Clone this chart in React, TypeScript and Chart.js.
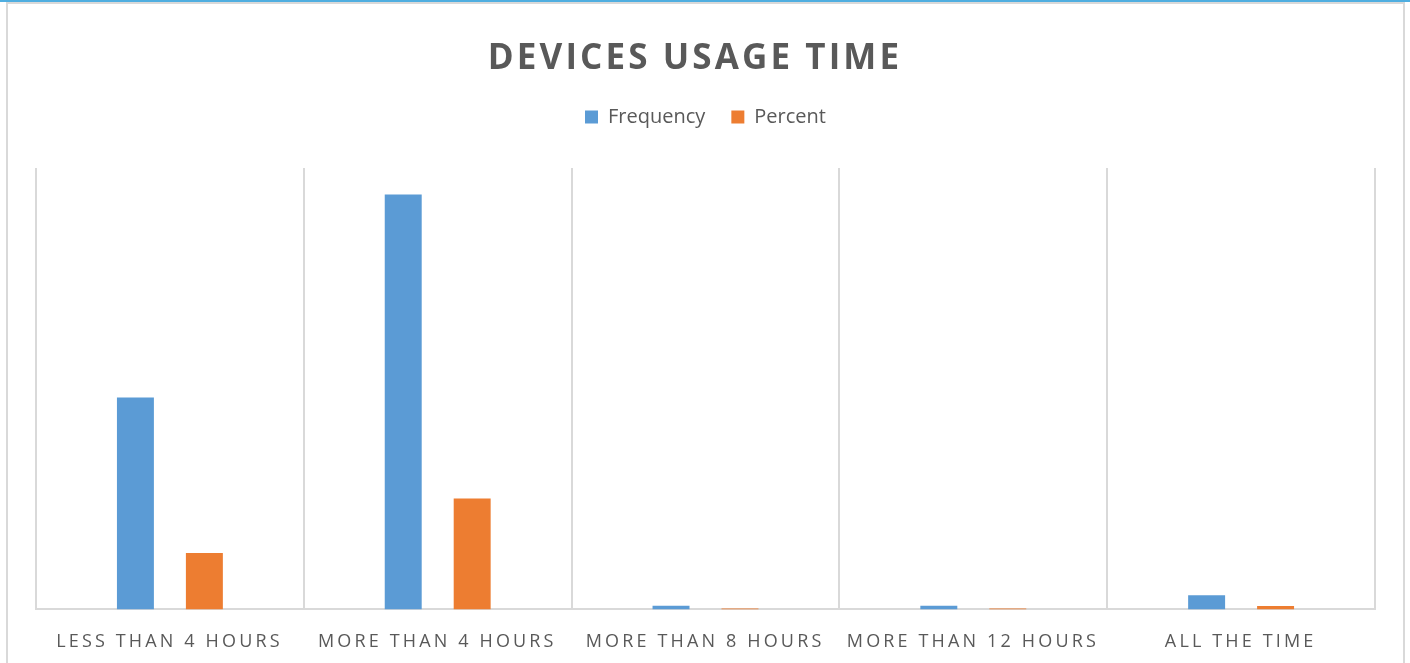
import React, { useEffect, useRef } from 'react';
import { Chart, registerables, CategoryScale } from 'chart.js';

Chart.register(...registerables);

// Usage buckets and the two series drawn per bucket
const categories = [
  'LESS THAN 4 HOURS',
  'MORE THAN 4 HOURS',
  'MORE THAN 8 HOURS',
  'MORE THAN 12 HOURS',
  'ALL THE TIME',
];
const frequency = [120, 235, 2, 2, 8];
const percent = [32.0, 62.8, 0.5, 0.5, 1.9];

const FONT = '"Open Sans", "Noto Sans", sans-serif';
const TEXT = '#595959';
const GRID = '#d9d9d9';
const TICK_SPACING = 3.15;
const TITLE_SPACING = 3.1;
const LEGEND_GAP = 31;

// Category axis that draws its labels with wide tracking
class SpacedCategoryScale extends CategoryScale {
  static id = 'spacedCategory';
  static defaults = CategoryScale.defaults;
  drawLabels(chartArea: any) {
    const ctx: any = this.ctx;
    ctx.save();
    ctx.letterSpacing = `${TICK_SPACING}px`;
    ctx.translate(TICK_SPACING / 2 - 2, 0);
    super.drawLabels(chartArea);
    ctx.restore();
  }
}
Chart.register(SpacedCategoryScale);

// Tracking for the title block
const titleTracking = {
  id: 'titleTracking',
  afterInit(chart: any) {
    const block = chart.titleBlock;
    if (block && !block.__tracked) {
      const draw = block.draw.bind(block);
      block.draw = (...args: any[]) => {
        const ctx = chart.ctx;
        ctx.save();
        ctx.letterSpacing = `${TITLE_SPACING}px`;
        ctx.translate(-10.5, 0);
        draw(...args);
        ctx.restore();
      };
      block.__tracked = true;
    }
  },
};

export default function App() {
  const ref = useRef<HTMLCanvasElement>(null);

  useEffect(() => {
    const chart = new Chart(ref.current!, {
      type: 'bar',
      data: {
        labels: categories,
        datasets: [
          {
            label: 'Frequency',
            data: frequency,
            backgroundColor: '#5B9BD5',
            barPercentage: 0.536,
            categoryPercentage: 0.515,
          },
          {
            label: 'Percent',
            data: percent,
            backgroundColor: '#ED7D31',
            barPercentage: 0.536,
            categoryPercentage: 0.515,
          },
        ],
      },
      plugins: [titleTracking],
      options: {
        responsive: false,
        animation: false,
        layout: { padding: { left: 36, right: 35, top: 0, bottom: 5 } },
        plugins: {
          title: {
            display: true,
            text: 'DEVICES USAGE TIME',
            color: TEXT,
            font: { family: FONT, size: 35, weight: 'bold' },
            padding: { top: 38, bottom: 1 },
          },
          legend: {
            display: true,
            position: 'top',
            labels: {
              boxWidth: 13,
              boxHeight: 13,
              color: TEXT,
              padding: 26,
              font: { family: FONT, size: 20 },
            },
          },
          tooltip: { enabled: false },
        },
        scales: {
          x: {
            type: 'spacedCategory' as any,
            offset: true,
            grid: {
              display: true,
              offset: true,
              color: GRID,
              lineWidth: 2,
              drawTicks: false,
            },
            border: { display: true, color: GRID, width: 2 },
            ticks: {
              color: TEXT,
              font: { family: FONT, size: 18 },
              padding: 22,
              autoSkip: false,
              maxRotation: 0,
            },
          },
          // empty band between the legend and the plot
          gap: {
            type: 'category',
            position: 'top',
            display: true,
            grid: { display: false, drawTicks: false },
            border: { display: false },
            ticks: { display: false },
            afterFit: (scale: any) => {
              scale.height = LEGEND_GAP;
            },
          },
          y: {
            display: false,
            min: 0,
            max: 250,
          },
        },
      },
    });
    return () => chart.destroy();
  }, []);

  return (
    <div
      style={{
        position: 'fixed',
        left: 0,
        top: 0,
        width: 1410,
        height: 663,
        background: '#fff',
        overflow: 'hidden',
      }}
    >
      <div
        style={{
          position: 'absolute',
          left: 0,
          top: 0,
          width: 1410,
          height: 2,
          background: '#4faee0',
        }}
      />
      <div
        style={{
          position: 'absolute',
          left: 6,
          top: 2,
          width: 1399,
          height: 700,
          border: '2px solid #d9d9d9',
          boxSizing: 'border-box',
        }}
      />
      <canvas
        ref={ref}
        width={1410}
        height={680}
        style={{ position: 'absolute', left: 0, top: 0 }}
      />
    </div>
  );
}
